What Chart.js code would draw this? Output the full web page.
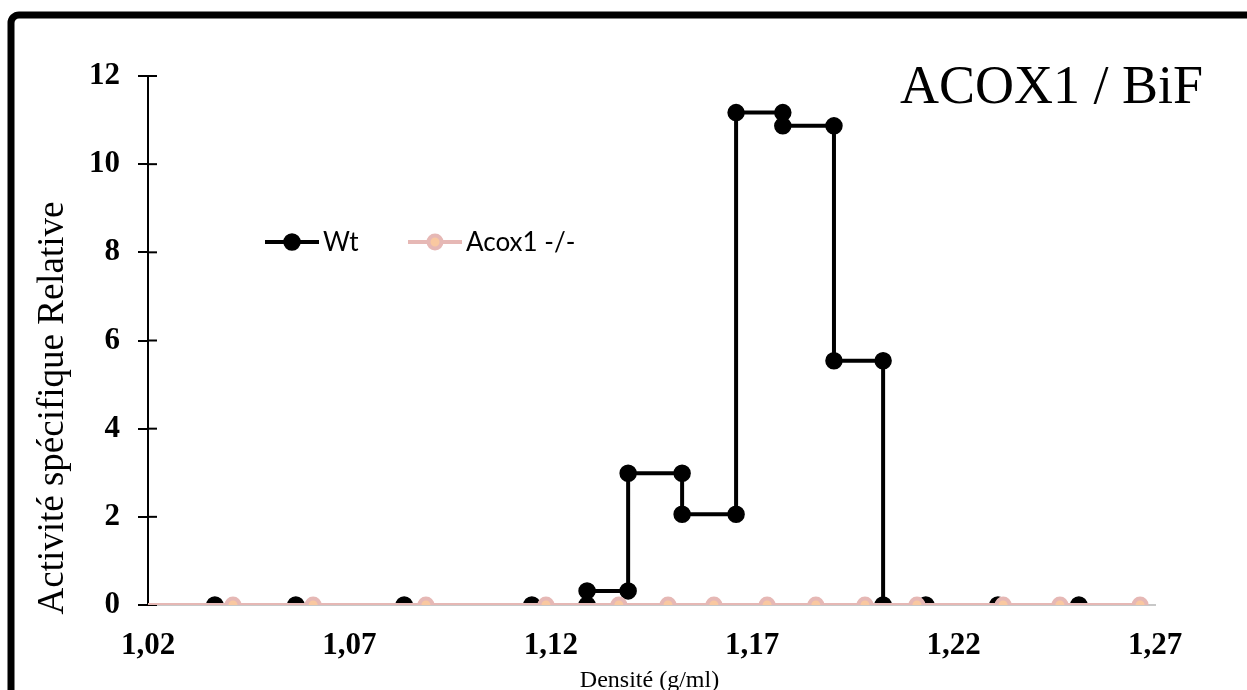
<!DOCTYPE html>
<html>
<head>
<meta charset="utf-8">
<script src="https://cdn.jsdelivr.net/npm/chart.js@4.4.1/dist/chart.umd.min.js"></script>
<style>
  html, body { margin: 0; padding: 0; background: #fff; }
  #wrap { width: 1247px; height: 690px; }
</style>
</head>
<body>
<div id="wrap"><canvas id="chart" width="1247" height="690"></canvas></div>
<script>
// values: density (g/ml) vs relative specific activity
const wtDensity  = [1.0366, 1.0567, 1.0836, 1.1153, 1.1290, 1.1290, 1.1392, 1.1392, 1.1526, 1.1526, 1.1660,
                    1.1660, 1.1776, 1.1776, 1.1903, 1.1903, 1.2025, 1.2025, 1.2131, 1.2310, 1.2511];
const wtActivity = [0, 0, 0, 0, 0, 0.32, 0.32, 2.99, 2.99, 2.06, 2.06,
                    11.17, 11.17, 10.87, 10.87, 5.54, 5.54, 0, 0, 0, 0];

const koDensity  = [1.02, 1.0411, 1.0610, 1.0890, 1.1188, 1.1369, 1.1491, 1.1605, 1.1737, 1.1858, 1.1980,
                    1.2109, 1.2323, 1.2464, 1.2663];
const koActivity = [0, 0, 0, 0, 0, 0, 0, 0, 0, 0, 0, 0, 0, 0, 0];

const xTicks = [1.02, 1.07, 1.12, 1.17, 1.22, 1.27];
const xTickLabels = ['1,02', '1,07', '1,12', '1,17', '1,22', '1,27'];
const yTicks = [0, 2, 4, 6, 8, 10, 12];

const seriesNames = ['Wt', 'Acox1 -/-'];
const chartTitle = 'ACOX1 / BiF';
const xTitle = 'Densité (g/ml)';
const yTitle = 'Activité spécifique Relative';

const serif = '"Liberation Serif", "Times New Roman", serif';
const pink = '#e6b8b5';
const peach = '#f9c8a0';

function toPoints(xs, ys) {
    return xs.map((x, i) => ({ x: x, y: ys[i] }));
}

// frame, inner half of the y ticks, titles and the legend
const decor = {
    id: 'decor',
    beforeDraw(chart) {
        const ctx = chart.ctx;
        ctx.save();
        ctx.strokeStyle = '#000';
        ctx.lineWidth = 7;
        ctx.beginPath();
        ctx.moveTo(11, 700);
        ctx.lineTo(11, 23);
        ctx.arcTo(11, 15, 19, 15, 8);
        ctx.lineTo(1260, 15);
        ctx.stroke();
        ctx.restore();
    },
    beforeDatasetsDraw(chart) {
        const ctx = chart.ctx;
        const area = chart.chartArea;
        const y = chart.scales.y;
        // ticks cross the axis
        ctx.save();
        ctx.strokeStyle = '#000';
        ctx.lineWidth = 2;
        yTicks.forEach(v => {
            const py = y.getPixelForValue(v);
            ctx.beginPath();
            ctx.moveTo(area.left, py);
            ctx.lineTo(area.left + 9, py);
            ctx.stroke();
        });
        ctx.restore();
    },
    afterDraw(chart) {
        const ctx = chart.ctx;
        const area = chart.chartArea;
        ctx.save();

        ctx.fillStyle = '#000';
        ctx.font = '54px ' + serif;
        ctx.textAlign = 'left';
        ctx.textBaseline = 'alphabetic';
        ctx.fillText(chartTitle, area.right - 255, area.top + 27);

        ctx.font = '24px ' + serif;
        ctx.textAlign = 'center';
        ctx.fillText(xTitle, (area.left + area.right) / 2 - 2, 687);

        ctx.save();
        ctx.translate(63, 408);
        ctx.rotate(-Math.PI / 2);
        ctx.font = '37px ' + serif;
        ctx.textAlign = 'center';
        ctx.fillText(yTitle, 0, 0);
        ctx.restore();

        // legend
        const legendX = [area.left + 117, area.left + 260];
        const legendY = area.top + 166;
        chart.data.datasets.forEach((ds, i) => {
            const x0 = legendX[i];
            ctx.strokeStyle = ds.borderColor;
            ctx.lineWidth = ds.borderWidth;
            ctx.beginPath();
            ctx.moveTo(x0, legendY);
            ctx.lineTo(x0 + 54, legendY);
            ctx.stroke();
            ctx.beginPath();
            ctx.arc(x0 + 27, legendY, i === 0 ? 8 : 6.5, 0, Math.PI * 2);
            ctx.fillStyle = ds.pointBackgroundColor;
            ctx.fill();
            ctx.lineWidth = ds.pointBorderWidth;
            ctx.strokeStyle = ds.pointBorderColor;
            ctx.stroke();
            ctx.fillStyle = '#000';
            ctx.font = '26px Lato, "Open Sans", sans-serif';
            ctx.textAlign = 'left';
            ctx.fillText(ds.label, x0 + 58, legendY + 9);
        });
        ctx.restore();
    }
};

new Chart(document.getElementById('chart'), {
    type: 'scatter',
    data: {
        datasets: [{
            label: seriesNames[0],
            data: toPoints(wtDensity, wtActivity),
            showLine: true,
            borderColor: '#000',
            borderWidth: 4,
            pointRadius: 8,
            pointBackgroundColor: '#000',
            pointBorderColor: '#000',
            pointBorderWidth: 1.5,
            order: 1
        }, {
            label: seriesNames[1],
            data: toPoints(koDensity, koActivity),
            showLine: true,
            borderColor: pink,
            borderWidth: 4,
            pointRadius: koDensity.map((d, i) => i === 0 ? 0 : 6.5),
            pointBackgroundColor: peach,
            pointBorderColor: pink,
            pointBorderWidth: 4,
            order: 0
        }]
    },
    options: {
        responsive: false,
        animation: false,
        layout: { padding: { left: 20, right: 92, top: 76, bottom: 0 } },
        plugins: {
            legend: { display: false },
            tooltip: { enabled: false }
        },
        scales: {
            x: {
                type: 'linear',
                min: 1.02,
                max: 1.27,
                afterBuildTicks: scale => { scale.ticks = xTicks.map(v => ({ value: v })); },
                afterFit: scale => { scale.height = 85; },
                grid: { display: false },
                border: { display: true, color: '#c8c8c8', width: 2 },
                ticks: {
                    color: '#000',
                    padding: 14,
                    maxRotation: 0,
                    font: { family: serif, size: 31, weight: 'bold' },
                    callback: (v, i) => xTickLabels[i]
                }
            },
            y: {
                min: 0,
                max: 12,
                afterBuildTicks: scale => { scale.ticks = yTicks.map(v => ({ value: v })); },
                afterFit: scale => { scale.width = 128; },
                grid: { display: true, drawOnChartArea: false, drawTicks: true, tickLength: 10, color: '#000', lineWidth: 2 },
                border: { display: true, color: '#000', width: 2 },
                ticks: {
                    color: '#000',
                    padding: 18,
                    font: { family: serif, size: 31, weight: 'bold' }
                }
            }
        }
    },
    plugins: [decor]
});
</script>
</body>
</html>
